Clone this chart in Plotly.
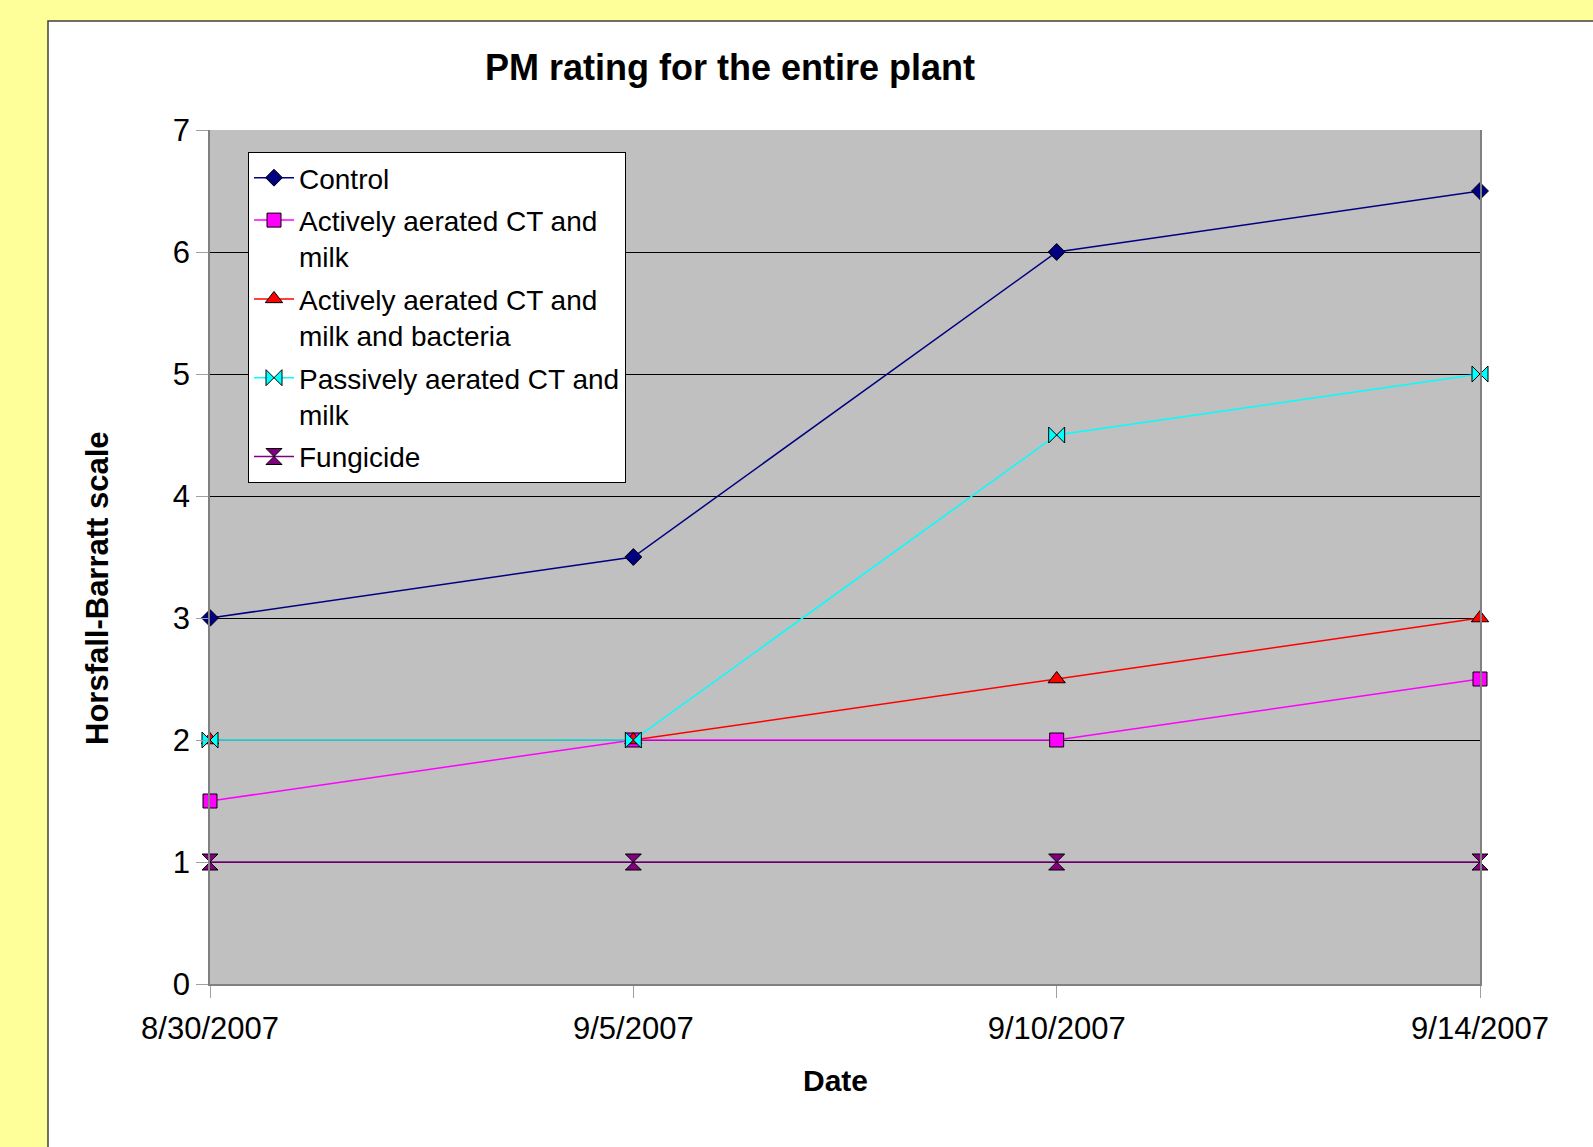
import plotly.graph_objects as go

# ---- data ----
dates = ["8/30/2007", "9/5/2007", "9/10/2007", "9/14/2007"]
control = [3, 3.5, 6, 6.5]
aact_milk = [1.5, 2, 2, 2.5]
aact_milk_bact = [2, 2, 2.5, 3]
pact_milk = [2, 2, 4.5, 5]
fungicide = [1, 1, 1, 1]

W, H = 1593, 1147
L, R, T, B = 210, 1480, 130, 984   # plot area in pixels

def px(x):
    return (x - L) / (R - L)

def py(y):
    return (B - y) / (B - T)

FONT = "Liberation Sans, Arial, sans-serif"

series = [
    ("Control", control, "#000080", "diamond", 13, "#000080"),
    ("Actively aerated CT and<br>milk", aact_milk, "#FF00FF", "square", 14, "#FF00FF"),
    ("Actively aerated CT and<br>milk and bacteria", aact_milk_bact, "#FF0000", "triangle-up", 15, "#FF0000"),
    ("Passively aerated CT and<br>milk", pact_milk, "#00FFFF", "bowtie", 16, "#00FFFF"),
    ("Fungicide", fungicide, "#800080", "hourglass", 16, "#800080"),
]

fig = go.Figure()
for name, vals, col, sym, sz, fill in series:
    fig.add_trace(go.Scatter(
        x=dates, y=vals, name=name, mode="lines+markers",
        legendgroup=name,
        line=dict(color=col, width=1.5),
        marker=dict(symbol=sym, size=sz, color=fill, line=dict(color="black", width=1)),
        cliponaxis=False,
    ))

fig.update_layout(
    width=W, height=H,
    margin=dict(l=L, r=W - R, t=T, b=H - B, pad=0),
    paper_bgcolor="#FFFF99",
    plot_bgcolor="#C0C0C0",
    font=dict(family=FONT, color="black"),
    showlegend=True,
    legend=dict(
        x=px(248), y=py(152), xanchor="left", yanchor="top",
        bgcolor="white", bordercolor="black", borderwidth=1,
        font=dict(family=FONT, size=28, color="black"),
        tracegroupgap=3, itemwidth=40, valign="top",
    ),
    xaxis=dict(
        type="category", range=[0, 3],
        showgrid=False, zeroline=False,
        showline=True, linecolor="#808080", linewidth=1.5,
        ticks="outside", ticklen=12, tickcolor="#A0A0A0", tickwidth=1,
        tickfont=dict(family=FONT, size=31, color="black"),
        ticklabelstandoff=4,
    ),
    yaxis=dict(
        range=[0, 7], dtick=1, tick0=0,
        showgrid=True, gridcolor="black", gridwidth=1,
        zeroline=False,
        showline=True, linecolor="#808080", linewidth=1.5, mirror=True,
        ticks="outside", ticklen=12, tickcolor="#A0A0A0", tickwidth=1,
        tickfont=dict(family=FONT, size=31, color="black"),
    ),
    shapes=[
        dict(type="rect", xref="paper", yref="paper", layer="below",
             x0=px(48), x1=px(1620), y0=py(1170), y1=py(21),
             fillcolor="white", line=dict(color="#404040", width=1.5)),
        dict(type="rect", xref="paper", yref="paper", layer="below",
             x0=0, x1=1, y0=0, y1=1,
             fillcolor="#C0C0C0", line=dict(width=0)),
    ],
    annotations=[
        dict(text="<b>PM rating for the entire plant</b>", xref="paper", yref="paper",
             x=px(730), y=py(68), xanchor="center", yanchor="middle", showarrow=False,
             font=dict(family=FONT, size=36, color="black")),
        dict(text="<b>Horsfall-Barratt scale</b>", xref="paper", yref="paper",
             x=px(97), y=py(588), xanchor="center", yanchor="middle", showarrow=False,
             textangle=-90, font=dict(family=FONT, size=31, color="black")),
        dict(text="<b>Date</b>", xref="paper", yref="paper",
             x=px(835), y=py(1080), xanchor="center", yanchor="middle", showarrow=False,
             font=dict(family=FONT, size=30, color="black")),
    ],
)

fig.write_html("out.html", config={"displayModeBar": False},
               post_script="document.body.style.margin='0';document.body.style.background='#FFFF99';")
